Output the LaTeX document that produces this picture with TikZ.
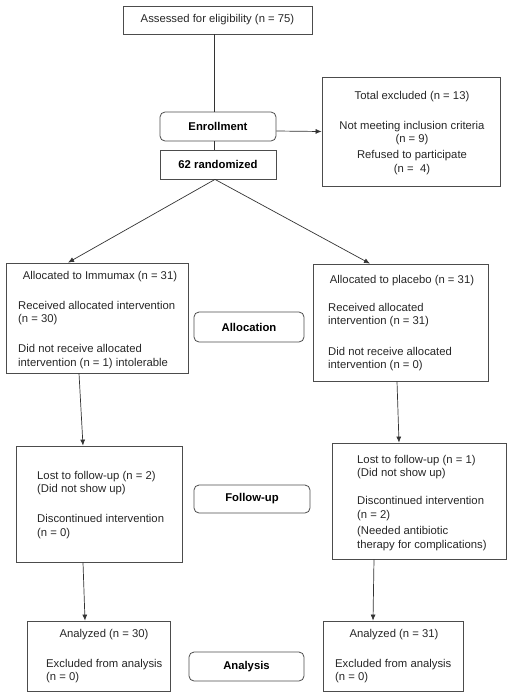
\documentclass[tikz,border=0pt]{standalone}
\usepackage{fontspec}
\setmainfont{Liberation Sans}
\usetikzlibrary{arrows.meta}
\begin{document}
\begin{tikzpicture}[x=1pt,y=-1pt,
  every node/.style={font=\fontsize{11.3}{13.6}\selectfont, text=black!85},
  box/.style={draw=black!70, line width=0.8pt, inner sep=0pt},
  stage/.style={box, rounded corners=5pt, font=\fontsize{11.3}{13.6}\selectfont\bfseries, text=black},
  txt/.style={inner sep=0pt, align=left},
  ctxt/.style={inner sep=0pt, align=center},
  conn/.style={draw=black!80, line width=0.7pt},
  arr/.style={conn, -{Latex[length=6pt,width=5pt]}}]
\useasboundingbox (0,0) rectangle (512,697);
% boxes
\node[box, minimum width=189pt, minimum height=28pt] (assess) at (217.5,20) {Assessed for eligibility (n = 75)};
\node[stage, minimum width=116pt, minimum height=29pt] (enroll) at (218,126.5) {Enrollment};
\node[box, font=\fontsize{11.3}{13.6}\selectfont\bfseries, text=black, minimum width=116pt, minimum height=29pt] (rand) at (218,164.5) {62 randomized};
\node[box, minimum width=178pt, minimum height=109pt] (excl) at (411,131.5) {};
\node[box, minimum width=182pt, minimum height=110pt] (a1) at (97,318) {};
\node[box, minimum width=175pt, minimum height=117pt] (a2) at (400.5,322.5) {};
\node[stage, minimum width=110pt, minimum height=30pt] (alloc) at (249,327) {Allocation};
\node[box, minimum width=166pt, minimum height=116pt] (f1) at (99,504) {};
\node[stage, minimum width=116pt, minimum height=28pt] (follow) at (252,499) {Follow-up};
\node[box, minimum width=174pt, minimum height=116pt] (f2) at (419,501) {};
\node[box, minimum width=143pt, minimum height=70pt] (n1) at (98.5,656) {};
\node[stage, minimum width=115pt, minimum height=29pt] (analysis) at (246.5,666.5) {Analysis};
\node[box, minimum width=140pt, minimum height=70pt] (n2) at (393,656) {};
% texts
\node[ctxt, anchor=base] (exclT) at (412,99) {Total excluded (n = 13)};
\node[ctxt, anchor=north] (exclB) at (412,120.8) {Not meeting inclusion criteria\\(n = 9)\\[2.5pt]Refused to participate\\(n =\ \ 4)};
\node[ctxt, anchor=base] (a1T) at (100,279) {Allocated to Immumax (n = 31)};
\node[txt, anchor=north west] (a1B) at (18,300.8) {Received allocated intervention\\(n = 30)\\[16.5pt]Did not receive allocated\\intervention (n = 1) intolerable};
\node[ctxt, anchor=base] (a2T) at (402,283) {Allocated to placebo (n = 31)};
\node[txt, anchor=north west] (a2B) at (328,302.8) {Received allocated\\intervention (n = 31)\\[17pt]Did not receive allocated\\intervention (n = 0)};
\node[txt, anchor=north west] (f1B) at (37,470.8) {Lost to follow-up (n = 2)\\(Did not show up)\\[16.5pt]Discontinued intervention\\(n = 0)};
\node[txt, anchor=north west] (f2B) at (357,454.8) {Lost to follow-up (n = 1)\\(Did not show up)\\[14.5pt]Discontinued intervention\\(n = 2)\\[2.5pt](Needed antibiotic\\therapy for complications)};
\node[ctxt, anchor=base] (n1T) at (104,637) {Analyzed (n = 30)};
\node[txt, anchor=north west] (n1B) at (46,658.8) {Excluded from analysis\\(n = 0)};
\node[ctxt, anchor=base] (n2T) at (394,637) {Analyzed (n = 31)};
\node[txt, anchor=north west] (n2B) at (335,658.8) {Excluded from analysis\\(n = 0)};
% connectors
\draw[conn] ([xshift=-3.5pt]assess.south) -- ([xshift=-3.5pt]assess.south |- enroll.north);
\draw[conn] ([xshift=-4pt]enroll.south) -- ([xshift=-4pt]rand.north);
\draw[arr] ([yshift=-4.5pt]enroll.east) -- (excl.west);
\draw[arr] ([xshift=-3pt]rand.south) -- ([xshift=-29pt]a1.north);
\draw[arr] ([xshift=-3pt]rand.south) -- ([xshift=-30.5pt]a2.north);
\draw[arr] ([xshift=-18pt]a1.south) -- ([xshift=-16pt]f1.north);
\draw[arr] ([xshift=-3.5pt]a2.south) -- ([xshift=-20pt]f2.north);
\draw[arr] ([xshift=-16pt]f1.south) -- ([xshift=-13.5pt]n1.north);
\draw[arr] ([xshift=-45pt]f2.south) -- ([xshift=-20pt]n2.north);
\end{tikzpicture}
\end{document}
